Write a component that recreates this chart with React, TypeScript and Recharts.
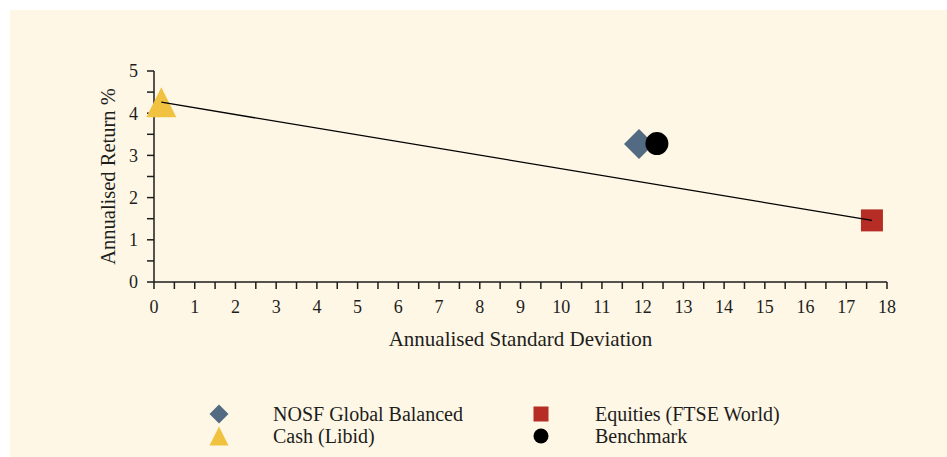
import React from 'react';
import { ScatterChart, Scatter, XAxis, YAxis, Label } from 'recharts';

// ---- data ----
const seriesNames = ['NOSF Global Balanced', 'Equities (FTSE World)', 'Cash (Libid)', 'Benchmark'];
const seriesX = [11.91, 17.63, 0.18, 12.35];
const seriesY = [3.27, 1.46, 4.26, 3.28];
const seriesColors = ['#536B82', '#B52D25', '#F0C240', '#000000'];
const seriesShapes = ['diamond', 'square', 'triangle', 'circle'];

// capital market line joins Cash (index 2) and Equities (index 1)
const lineFrom = 2;
const lineTo = 1;

const xTicks = [0, 0.5, 1, 1.5, 2, 2.5, 3, 3.5, 4, 4.5, 5, 5.5, 6, 6.5, 7, 7.5, 8, 8.5, 9, 9.5, 10, 10.5, 11, 11.5, 12, 12.5, 13, 13.5, 14, 14.5, 15, 15.5, 16, 16.5, 17, 17.5, 18];
const yTicks = [0, 0.5, 1, 1.5, 2, 2.5, 3, 3.5, 4, 4.5, 5];

const xTitle = 'Annualised Standard Deviation';
const yTitle = 'Annualised Return %';

// legend order: rows then columns
const legendOrder = [0, 1, 2, 3];

const FONT = '"Liberation Serif", "Times New Roman", serif';
const INK = '#1d1d1b';
const BG = '#FEF7E6';

const W = 937;
const H = 447;

function drawShape(kind: string, cx: number, cy: number, s: number, color: string) {
  if (kind === 'diamond') {
    const r = s / 2;
    return <polygon points={`${cx},${cy - r} ${cx + r},${cy} ${cx},${cy + r} ${cx - r},${cy}`} fill={color} />;
  }
  if (kind === 'square') {
    const r = s / 2;
    return <rect x={cx - r} y={cy - r} width={s} height={s} fill={color} />;
  }
  if (kind === 'triangle') {
    const r = s / 2;
    return <polygon points={`${cx},${cy - r} ${cx + r},${cy + r} ${cx - r},${cy + r}`} fill={color} />;
  }
  return <circle cx={cx} cy={cy} r={s / 2} fill={color} />;
}

const markerSize: Record<string, number> = { diamond: 30, square: 22, triangle: 30, circle: 23 };
const legendSize: Record<string, number> = { diamond: 19, square: 15, triangle: 19, circle: 15 };

const fmt = (v: number) => (Number.isInteger(v) ? String(v) : '');

const YTitle = (props: any) => {
  const vb = props.viewBox || {};
  const cx = vb.x + vb.width - 46;
  const cy = vb.y + vb.height / 2;
  return (
    <text x={cx} y={cy} transform={`rotate(-90 ${cx} ${cy})`} textAnchor="middle" dominantBaseline="central"
      fontFamily={FONT} fontSize={20.5} fill={INK}>
      {yTitle}
    </text>
  );
};

const XTitle = (props: any) => {
  const vb = props.viewBox || {};
  const cx = vb.x + vb.width / 2;
  const cy = vb.y + 57;
  return (
    <text x={cx} y={cy} textAnchor="middle" dominantBaseline="central" fontFamily={FONT} fontSize={21} fill={INK}>
      {xTitle}
    </text>
  );
};

export default function App() {
  const lineData = [
    { x: seriesX[lineFrom], y: seriesY[lineFrom] },
    { x: seriesX[lineTo], y: seriesY[lineTo] },
  ];
  return (
    <div style={{ position: 'absolute', left: 10, top: 10, width: W, height: H, background: BG }}>
      <ScatterChart width={W} height={H} margin={{ top: 61, right: 60, left: 0, bottom: 135 }}>
        <XAxis
          type="number"
          dataKey="x"
          domain={[0, 18]}
          ticks={xTicks}
          interval={0}
          tickFormatter={fmt}
          height={40}
          tickSize={7}
          tickMargin={11}
          stroke={INK}
          strokeWidth={1.5}
          tick={{ fill: INK, fontFamily: FONT, fontSize: 18 }}
          tickLine={{ stroke: INK, strokeWidth: 1.5 }}
          axisLine={{ stroke: INK, strokeWidth: 1.5 }}
        >
          <Label content={<XTitle />} />
        </XAxis>
        <YAxis
          type="number"
          dataKey="y"
          domain={[0, 5]}
          ticks={yTicks}
          interval={0}
          tickFormatter={fmt}
          width={144}
          tickSize={7}
          tickMargin={9}
          stroke={INK}
          strokeWidth={1.5}
          tick={{ fill: INK, fontFamily: FONT, fontSize: 18 }}
          tickLine={{ stroke: INK, strokeWidth: 1.5 }}
          axisLine={{ stroke: INK, strokeWidth: 1.5 }}
        >
          <Label content={<YTitle />} />
        </YAxis>
        {seriesNames.map((name, i) => (
          <Scatter
            key={name}
            name={name}
            data={[{ x: seriesX[i], y: seriesY[i] }]}
            fill={seriesColors[i]}
            isAnimationActive={false}
            shape={(p: any) => drawShape(seriesShapes[i], p.cx, p.cy, markerSize[seriesShapes[i]], seriesColors[i])}
          />
        ))}
        <Scatter
          name="line"
          data={lineData}
          line={{ stroke: '#000', strokeWidth: 1.3 }}
          shape={() => <g />}
          isAnimationActive={false}
          legendType="none"
        />
      </ScatterChart>
      <div style={{ position: 'absolute', left: 0, top: 390, width: W, height: 40 }}>
        {legendOrder.map((idx, k) => {
          const col = k % 2;
          const row = Math.floor(k / 2);
          const iconX = col === 0 ? 209 : 531;
          const textX = col === 0 ? 263 : 585;
          const cy = row === 0 ? 14 : 36;
          const kind = seriesShapes[idx];
          return (
            <React.Fragment key={idx}>
              <svg style={{ position: 'absolute', left: iconX - 12, top: cy - 12 }} width={24} height={24}>
                {drawShape(kind, 12, 12, legendSize[kind], seriesColors[idx])}
              </svg>
              <div style={{ position: 'absolute', left: textX, top: cy - 12, height: 24, lineHeight: '24px', fontFamily: FONT, fontSize: 20, color: INK, whiteSpace: 'nowrap' }}>
                {seriesNames[idx]}
              </div>
            </React.Fragment>
          );
        })}
      </div>
    </div>
  );
}
